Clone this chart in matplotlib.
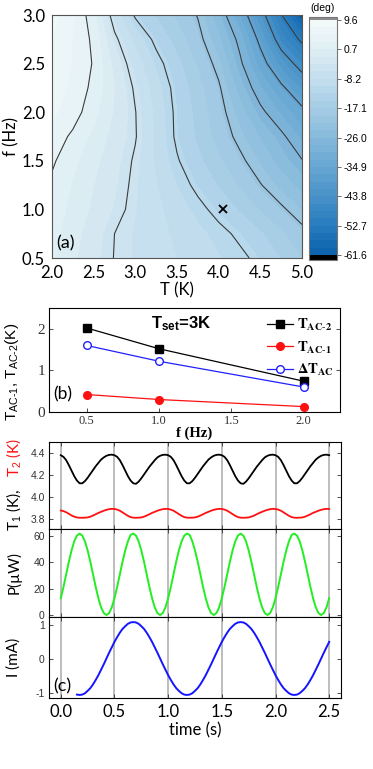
import numpy as np
import matplotlib
matplotlib.use("Agg")
import matplotlib.pyplot as plt
from matplotlib.colors import LinearSegmentedColormap

plt.rcParams["axes.unicode_minus"] = False
plt.rcParams["mathtext.fontset"] = "custom"
plt.rcParams["mathtext.rm"] = "Liberation Sans"
plt.rcParams["mathtext.it"] = "Liberation Sans:italic"
plt.rcParams["mathtext.bf"] = "Liberation Sans:bold"

# ---- (a) phase map, deg, rows = f, cols = T
temps = [2.0, 2.25, 2.5, 2.75, 3.0, 3.25, 3.5, 3.75, 4.0, 4.25, 4.5, 4.75, 5.0]
freqs = [0.5, 0.75, 1.0, 1.25, 1.5, 1.75, 2.0, 2.25, 2.5, 2.75, 3.0]
phase = [
    [1.0, -1.1, -3.2, -5.1, -6.2, -7.2, -8.2, -9.3, -10.3, -11.3, -12.8, -15.0, -17.1],
    [1.5, -0.7, -2.8, -5.0, -6.2, -7.4, -8.7, -9.9, -11.1, -12.6, -14.6, -16.8, -18.9],
    [2.0, 0.0, -2.0, -4.0, -5.9, -7.6, -9.4, -11.1, -13.0, -15.2, -17.4, -19.4, -21.8],
    [2.5, 0.5, -1.5, -3.5, -5.7, -8.1, -10.5, -12.8, -15.1, -17.4, -19.8, -22.3, -24.8],
    [3.4, 1.3, -0.9, -3.1, -5.4, -8.6, -11.7, -14.3, -16.7, -19.2, -21.9, -24.9, -27.8],
    [4.5, 2.5, 0.1, -2.4, -4.8, -8.7, -12.6, -15.3, -18.1, -20.9, -24.0, -27.1, -31.2],
    [5.5, 4.2, 1.4, -1.8, -4.9, -8.9, -12.7, -15.7, -18.7, -22.5, -27.0, -30.9, -34.7],
    [6.5, 4.6, 2.4, -1.5, -5.5, -9.5, -13.1, -16.3, -19.5, -24.8, -30.2, -35.0, -40.0],
    [7.0, 5.0, 2.8, -2.3, -6.9, -10.8, -14.2, -17.4, -21.1, -27.1, -33.8, -40.6, -46.3],
    [7.5, 5.0, 2.5, -4.2, -8.9, -12.9, -15.9, -18.9, -23.2, -29.0, -37.3, -46.7, -53.1],
    [8.0, 5.5, 1.5, -6.8, -12.5, -15.1, -17.6, -20.2, -25.5, -32.6, -41.7, -51.7, -61.1],
]
line_levels = [-60.0, -52.0, -44.0, -36.0, -28.0, -20.0, -12.0, -5.0, 3.0]
cbar_ticks = [9.6, 0.7, -8.2, -17.1, -26.0, -34.9, -43.8, -52.7, -61.6]
mark_T, mark_f = 4.05, 1.0

# ---- (b) amplitudes at T_set = 3 K
freq_b = [0.5, 1.0, 2.0]
t_ac2 = [2.02, 1.52, 0.74]
t_ac1 = [0.42, 0.30, 0.13]
dt_ac = [1.60, 1.22, 0.60]

# ---- (c) time traces (t = 0 ... 2.5 s, 0.025 s apart; current from 0.15 s)
temp1 = [
    4.38, 4.365, 4.335, 4.29, 4.24, 4.19, 4.15, 4.125, 4.125, 4.145,
    4.175, 4.21, 4.245, 4.28, 4.31, 4.34, 4.36, 4.375, 4.383, 4.385,
    4.38, 4.365, 4.335, 4.29, 4.24, 4.19, 4.15, 4.125, 4.12, 4.14,
    4.17, 4.205, 4.24, 4.275, 4.305, 4.335, 4.36, 4.375, 4.383, 4.385,
    4.38, 4.365, 4.335, 4.29, 4.24, 4.19, 4.15, 4.125, 4.125, 4.145,
    4.175, 4.21, 4.245, 4.28, 4.31, 4.34, 4.36, 4.375, 4.383, 4.385,
    4.38, 4.365, 4.335, 4.29, 4.24, 4.19, 4.15, 4.125, 4.12, 4.14,
    4.17, 4.205, 4.24, 4.275, 4.305, 4.335, 4.36, 4.375, 4.383, 4.385,
    4.38, 4.365, 4.335, 4.29, 4.24, 4.19, 4.15, 4.125, 4.125, 4.145,
    4.175, 4.21, 4.245, 4.28, 4.31, 4.34, 4.36, 4.375, 4.383, 4.385,
    4.38,
]
temp2 = [
    3.878, 3.872, 3.862, 3.848, 3.833, 3.822, 3.815, 3.812, 3.812, 3.813,
    3.815, 3.822, 3.832, 3.844, 3.856, 3.866, 3.876, 3.884, 3.89, 3.893,
    3.892, 3.886, 3.876, 3.861, 3.845, 3.83, 3.818, 3.813, 3.812, 3.813,
    3.815, 3.822, 3.832, 3.844, 3.856, 3.866, 3.876, 3.884, 3.89, 3.893,
    3.892, 3.886, 3.876, 3.861, 3.845, 3.83, 3.818, 3.813, 3.812, 3.813,
    3.815, 3.822, 3.832, 3.844, 3.856, 3.866, 3.876, 3.884, 3.89, 3.893,
    3.892, 3.886, 3.876, 3.861, 3.845, 3.83, 3.818, 3.813, 3.812, 3.813,
    3.815, 3.822, 3.832, 3.844, 3.856, 3.866, 3.876, 3.884, 3.89, 3.893,
    3.892, 3.886, 3.876, 3.861, 3.845, 3.83, 3.818, 3.813, 3.812, 3.813,
    3.815, 3.822, 3.832, 3.844, 3.856, 3.866, 3.876, 3.884, 3.89, 3.893,
    3.892,
]
power = [
    12.8, 21.4, 31.0, 40.6, 49.2, 56.1, 60.5, 62.0, 60.5, 56.1,
    49.2, 40.6, 31.0, 21.4, 12.8, 5.9, 1.5, 0.0, 1.5, 5.9,
    12.8, 21.4, 31.0, 40.6, 49.2, 56.1, 61.0, 62.0, 60.5, 56.1,
    49.2, 40.6, 31.0, 21.4, 12.8, 5.9, 1.5, 0.0, 1.5, 5.9,
    12.8, 21.4, 31.0, 40.6, 49.2, 56.1, 60.5, 62.0, 61.0, 56.1,
    49.2, 40.6, 31.0, 21.4, 12.8, 5.9, 1.5, 0.0, 1.5, 5.9,
    12.8, 21.4, 31.0, 40.6, 49.2, 56.1, 60.5, 62.0, 60.5, 56.1,
    49.2, 40.6, 31.0, 21.4, 12.8, 5.9, 1.5, 0.0, 1.5, 5.9,
    12.8, 21.4, 31.0, 40.6, 49.2, 56.1, 61.0, 62.0, 60.5, 56.1,
    49.2, 40.6, 31.0, 21.4, 12.8, 5.9, 1.5, 0.0, 1.5, 5.9,
    12.8,
]
current = [
    -1.04,
    -1.05, -1.04, -1.00, -0.93, -0.85, -0.74, -0.61, -0.47, -0.31, -0.15,
    0.02, 0.19, 0.35, 0.51, 0.65, 0.78, 0.89, 0.97, 1.04, 1.08,
    1.09, 1.08, 1.04, 0.97, 0.89, 0.78, 0.65, 0.51, 0.35, 0.19,
    0.02, -0.15, -0.31, -0.47, -0.61, -0.74, -0.85, -0.93, -1.00, -1.04,
    -1.05, -1.04, -1.00, -0.93, -0.85, -0.74, -0.61, -0.47, -0.31, -0.15,
    0.02, 0.19, 0.35, 0.51, 0.65, 0.78, 0.89, 0.97, 1.04, 1.08,
    1.09, 1.08, 1.04, 0.97, 0.89, 0.78, 0.65, 0.51, 0.35, 0.19,
    0.02, -0.15, -0.31, -0.47, -0.61, -0.74, -0.85, -0.93, -1.00, -1.04,
    -1.05, -1.04, -1.00, -0.93, -0.85, -0.74, -0.61, -0.47, -0.31, -0.15,
    0.02, 0.19, 0.35, 0.51,
]
time_ticks = [0.0, 0.5, 1.0, 1.5, 2.0, 2.5]

W, H = 373.0, 769.0


def box(l, t, r, b):
    return [l / W, 1 - b / H, (r - l) / W, (b - t) / H]


big = "Lato"
arial = "Liberation Sans"
times = "Liberation Serif"

fig = plt.figure(figsize=(3.73, 7.69), dpi=100)

# ---------------- (a)
cmap = LinearSegmentedColormap.from_list("phase", [
    "#0a62ab", "#287cbe", "#4892c8", "#66a6d2", "#86b9db",
    "#a5cce5", "#c3deee", "#deeef3", "#f4fafa"])
cmap.set_over("#8c8c8c")
cmap.set_under("#000000")
fill_levels = np.linspace(-61.6, 9.6, 33)

ax_a = fig.add_axes(box(52, 15, 302, 258))
cf = ax_a.contourf(temps, freqs, phase, levels=fill_levels, cmap=cmap, extend="both")
ax_a.contour(temps, freqs, phase, levels=line_levels, colors="#3a3a3a",
             linewidths=0.8, linestyles="solid")
ax_a.plot(mark_T, mark_f, "x", color="k", ms=6, mew=1.3)
ax_a.set_xlim(2.0, 5.0)
ax_a.set_ylim(0.5, 3.0)
ax_a.set_xticks([2.0, 2.5, 3.0, 3.5, 4.0, 4.5, 5.0])
ax_a.set_yticks([0.5, 1.0, 1.5, 2.0, 2.5, 3.0])
ax_a.xaxis.set_major_formatter(matplotlib.ticker.FormatStrFormatter("%.1f"))
ax_a.yaxis.set_major_formatter(matplotlib.ticker.FormatStrFormatter("%.1f"))
ax_a.tick_params(length=0, labelsize=12, pad=5)
for lab in ax_a.get_xticklabels() + ax_a.get_yticklabels():
    lab.set_fontfamily(big)
ax_a.set_xlabel("T (K)", fontsize=12, family=big, labelpad=1)
ax_a.set_ylabel("f (Hz)", fontsize=12, family=big, labelpad=2)
ax_a.text(2.05, 0.6, "(a)", fontsize=13, family=big)
for s in ax_a.spines.values():
    s.set_color("#555555")

cax = fig.add_axes(box(309, 17, 337, 260))
cb = fig.colorbar(cf, cax=cax, extend="both", extendrect=True,
                  extendfrac=(0.021, 0.013), ticks=cbar_ticks)
cb.ax.set_yticklabels(["%.1f" % v for v in cbar_ticks])
cb.ax.tick_params(labelsize=7.5, length=3, width=0.6, color="#555555", pad=2)
for lab in cb.ax.get_yticklabels():
    lab.set_fontfamily(arial)
cb.outline.set_edgecolor("#777777")
fig.text(323 / W, 1 - 8 / H, "(deg)", fontsize=7.5, family=arial, ha="center", va="center")

# ---------------- (b)
ax_b = fig.add_axes(box(49, 308, 340, 412))
ax_b.plot(freq_b, t_ac2, "-s", color="k", lw=0.9, ms=5.5,
          label=r"$\mathbf{T_{AC\text{-}2}}$")
ax_b.plot(freq_b, t_ac1, "-o", color="#ff1010", lw=0.9, ms=5.5,
          label=r"$\mathbf{T_{AC\text{-}1}}$")
ax_b.plot(freq_b, dt_ac, "-o", color="#2020ff", mfc="white", mew=1.0, lw=0.9, ms=5.5,
          label=r"$\mathbf{\Delta T_{AC}}$")
ax_b.set_xlim(0.24, 2.25)
ax_b.set_ylim(0, 2.5)
ax_b.set_xticks([0.5, 1.0, 1.5, 2.0])
ax_b.set_yticks([0, 1, 2])
ax_b.xaxis.set_major_formatter(matplotlib.ticker.FormatStrFormatter("%.1f"))
ax_b.tick_params(direction="in", right=True, length=3, width=0.6, colors="#333333")
ax_b.tick_params(axis="x", labelsize=9, pad=2)
ax_b.tick_params(axis="y", labelsize=11, pad=3)
for lab in ax_b.get_xticklabels() + ax_b.get_yticklabels():
    lab.set_fontfamily(times)
ax_b.set_xlabel("f (Hz)", fontsize=10.5, family=times, fontweight="bold", labelpad=0)
leg = ax_b.legend(loc="upper right", bbox_to_anchor=(1.01, 1.0), frameon=False,
                  fontsize=10.5, handlelength=1.8, handletextpad=0.3,
                  labelspacing=0.45, borderaxespad=0.2)
for txt in leg.get_texts():
    txt.set_math_fontfamily("stix")
ax_b.text(0.27, 0.3, "(b)", fontsize=12.5, family=big)
ax_b.text(1.15, 2.02, r"$\mathbf{T_{set}}$=3K", fontsize=12, family=arial,
          fontweight="bold", ha="center")
fig.text(12 / W, 1 - 372 / H, r"T$_{\mathrm{AC}\text{-}1}$, T$_{\mathrm{AC}\text{-}2}$(K)",
         rotation=90, fontsize=11, family=arial, ha="center", va="center")

# ---------------- (c)
t_full = np.linspace(0.0, 2.5, len(temp1))
t_cur = np.linspace(0.15, 2.5, len(current))

ax_t = fig.add_axes(box(49, 442, 341, 529))
ax_p = fig.add_axes(box(49, 529, 341, 617), sharex=ax_t)
ax_i = fig.add_axes(box(49, 617, 341, 698), sharex=ax_t)

ax_t.plot(t_full, temp1, color="k", lw=1.3)
ax_t.plot(t_full, temp2, color="#ff1010", lw=1.3)
ax_t.set_ylim(3.71, 4.50)
ax_t.set_yticks([3.8, 4.0, 4.2, 4.4])

ax_p.plot(t_full, power, color="#22ee22", lw=1.4)
ax_p.set_ylim(-1.5, 65.5)
ax_p.set_yticks([0, 20, 40, 60])

ax_i.plot(t_cur, current, color="#1515ff", lw=1.4)
ax_i.set_ylim(-1.14, 1.24)
ax_i.set_yticks([-1, 0, 1])

for ax in (ax_t, ax_p, ax_i):
    ax.set_xlim(-0.11, 2.61)
    ax.set_xticks(time_ticks)
    ax.grid(axis="x", color="#b8b8b8", lw=1.3)
    ax.set_axisbelow(True)
    ax.tick_params(direction="in", right=True, top=True, length=3, width=0.6,
                   labelsize=7.5, colors="#333333", pad=3)
    for lab in ax.get_yticklabels():
        lab.set_fontfamily(arial)
ax_t.tick_params(labelbottom=False)
ax_p.tick_params(labelbottom=False)
ax_i.xaxis.set_major_formatter(matplotlib.ticker.FormatStrFormatter("%.1f"))
ax_i.tick_params(axis="x", labelsize=12, pad=4, labelcolor="k")
for lab in ax_i.get_xticklabels():
    lab.set_fontfamily(big)
ax_i.set_xlabel("time (s)", fontsize=12, family=big, labelpad=2)
ax_i.text(-0.07, -0.95, "(c)", fontsize=13, family=big)

fig.text(14 / W, 1 - 531 / H, r"T$_1$ (K), ", rotation=90, fontsize=11,
         family=big, ha="center", va="bottom")
fig.text(14 / W, 1 - 477 / H, r"T$_2$ (K)", rotation=90, fontsize=11,
         family=big, color="#ff1010", ha="center", va="bottom")
fig.text(14 / W, 1 - 573 / H, "P(µW)", rotation=90, fontsize=11,
         family=big, ha="center", va="center")
fig.text(14 / W, 1 - 657 / H, "I (mA)", rotation=90, fontsize=11,
         family=big, ha="center", va="center")

fig.savefig("out.png", dpi=100)
